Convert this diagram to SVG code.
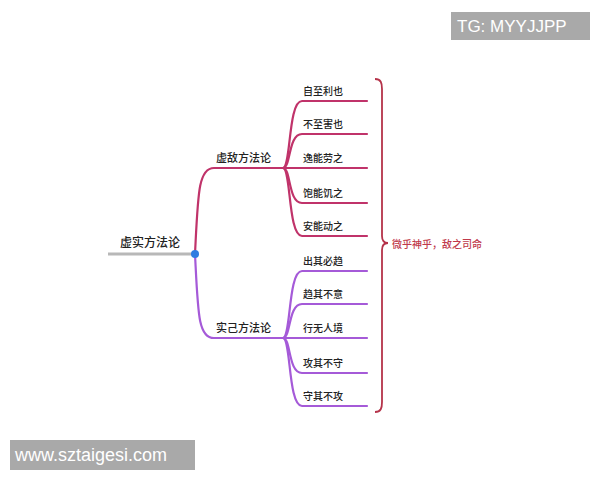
<svg xmlns="http://www.w3.org/2000/svg" width="600" height="480" viewBox="0 0 600 480">
<style>
.t{font-family:"Noto Sans CJK SC","Noto Sans",sans-serif;fill:#222;font-weight:500}
.red{fill:none;stroke:#c0336a;stroke-width:2.2;stroke-linecap:round}
.pur{fill:none;stroke:#a55ad8;stroke-width:2.2;stroke-linecap:round}
.lbl{font-size:10px}
.br{font-size:11px}
</style>
<rect width="600" height="480" fill="#fff"/>
<g id="connectors">
<path d="M108,254 L195,254" stroke="#b8b8b8" stroke-width="3" fill="none"/>
<path class="red" d="M195,254 C198,195 198,168 214,168 L283,168" stroke-width="2.6"/>
<path class="pur" d="M195,254 C198,313 198,338 214,338 L283,338" stroke-width="2.6"/>
<path class="red" d="M283,168 C291,168 288,101 302,101 L367,101"/>
<path class="red" d="M283,168 C291,168 288,134 302,134 L367,134"/>
<path class="red" d="M283,168 L367,168"/>
<path class="red" d="M283,168 C291,168 288,203 302,203 L367,203"/>
<path class="red" d="M283,168 C291,168 288,236 302,236 L367,236"/>
<path class="pur" d="M283,338 C291,338 288,271 302,271 L367,271"/>
<path class="pur" d="M283,338 C291,338 288,304 302,304 L367,304"/>
<path class="pur" d="M283,338 L367,338"/>
<path class="pur" d="M283,338 C291,338 288,373 302,373 L367,373"/>
<path class="pur" d="M283,338 C291,338 288,406 302,406 L367,406"/>
<path d="M375,79 C381,79 382,83 382,89 L382,236 C382,240 384,243 388,243 C384,243 382,246 382,250 L382,402 C382,408 381,412 375,412" fill="none" stroke="#b5334a" stroke-width="1.8"/>
</g>
<g id="root">
<circle cx="195" cy="254" r="4" fill="#2f7de1"/>
<text class="t" x="120" y="247" font-size="12">虚实方法论</text>
</g>
<g id="enemy"><text class="t br" x="216" y="162">虚敌方法论</text></g>
<g id="self"><text class="t br" x="216" y="332">实己方法论</text></g>
<g id="e1"><text class="t lbl" x="303" y="95">自至利也</text></g>
<g id="e2"><text class="t lbl" x="303" y="128">不至害也</text></g>
<g id="e3"><text class="t lbl" x="303" y="162">逸能劳之</text></g>
<g id="e4"><text class="t lbl" x="303" y="197">饱能饥之</text></g>
<g id="e5"><text class="t lbl" x="303" y="230">安能动之</text></g>
<g id="s1"><text class="t lbl" x="303" y="265">出其必趋</text></g>
<g id="s2"><text class="t lbl" x="303" y="298">趋其不意</text></g>
<g id="s3"><text class="t lbl" x="303" y="332">行无人境</text></g>
<g id="s4"><text class="t lbl" x="303" y="367">攻其不守</text></g>
<g id="s5"><text class="t lbl" x="303" y="400">守其不攻</text></g>
<g id="summary"><text class="t" x="392" y="248" font-size="10" style="fill:#c0394b">微乎神乎，敌之司命</text></g>
<g id="tg">
<rect x="451" y="12" width="139" height="28" fill="#a9a9a9"/>
<text x="457" y="32" font-family="Liberation Sans,Arial,sans-serif" font-size="17" fill="#fff">TG: MYYJJPP</text>
</g>
<g id="www">
<rect x="10" y="440" width="185" height="30" fill="#a9a9a9"/>
<text x="15" y="461" font-family="Liberation Sans,Arial,sans-serif" font-size="18" fill="#fff">www.sztaigesi.com</text>
</g>
</svg>
